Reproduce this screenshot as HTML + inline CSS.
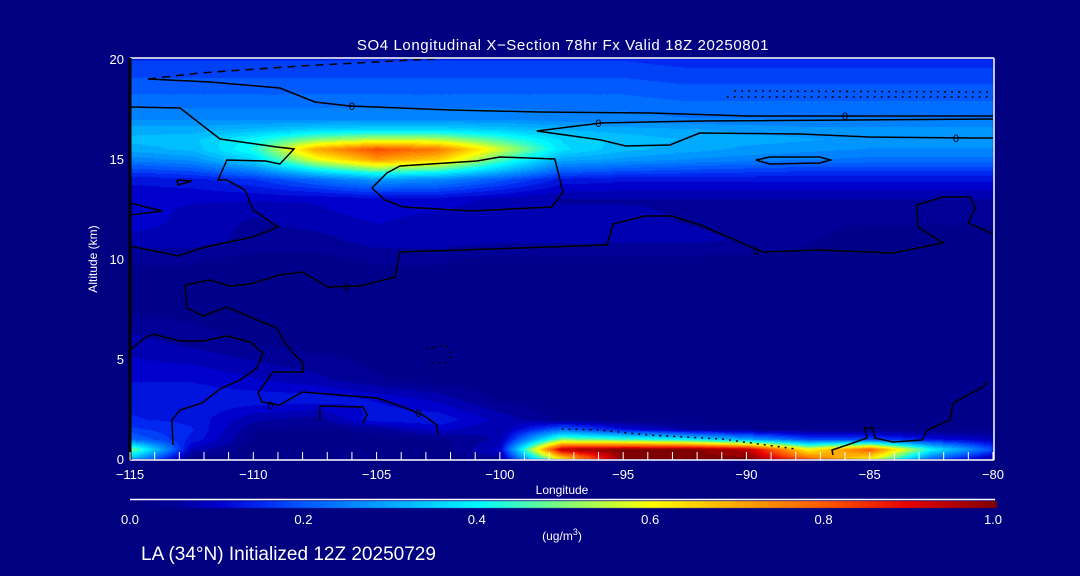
<!DOCTYPE html>
<html><head><meta charset="utf-8">
<style>
html,body{margin:0;padding:0;background:#000080;}
#wrap{position:relative;width:1080px;height:576px;background:#000080;overflow:hidden;font-family:"Liberation Sans",sans-serif;color:#fff;}
canvas{position:absolute;left:0;top:0;}
svg{position:absolute;left:0;top:0;}
</style></head>
<body>
<div id="wrap">
<canvas id="field" width="1080" height="576"></canvas>
<svg id="ov" width="1080" height="576"></svg>
</div>
<script>
// ---- data ----
const lons = [-115,-112.5,-110,-107.5,-105,-102.5,-100,-97.5,-95,-92.5,-90,-87.5,-85,-82.5,-80];
const alts = [0,0.5,1,1.5,2,3,4,6,8,10,11,12,13,14,14.5,15,15.5,16,16.5,17,18,19,20];
const so4 = [
 [0.30,0.02,0.02,0.02,0.02,0.02,0.05,0.60,1.00,1.00,1.00,0.80,0.60,0.20,0.05],
 [0.50,0.08,0.02,0.02,0.02,0.02,0.10,0.95,1.00,1.00,0.95,0.60,0.80,0.40,0.18],
 [0.22,0.13,0.03,0.02,0.02,0.03,0.07,0.50,0.45,0.40,0.30,0.18,0.18,0.12,0.08],
 [0.17,0.14,0.04,0.03,0.05,0.10,0.06,0.22,0.12,0.06,0.04,0.03,0.03,0.03,0.03],
 [0.14,0.13,0.07,0.05,0.13,0.13,0.08,0.03,0.02,0.02,0.02,0.02,0.02,0.02,0.02],
 [0.13,0.13,0.13,0.13,0.11,0.08,0.03,0.02,0.02,0.02,0.02,0.02,0.02,0.02,0.02],
 [0.11,0.11,0.09,0.07,0.04,0.02,0.02,0.02,0.02,0.02,0.02,0.02,0.02,0.02,0.02],
 [0.07,0.05,0.03,0.02,0.02,0.02,0.02,0.02,0.02,0.02,0.02,0.02,0.02,0.02,0.02],
 [0.02,0.02,0.02,0.02,0.02,0.02,0.02,0.02,0.02,0.02,0.02,0.02,0.02,0.02,0.02],
 [0.04,0.04,0.03,0.03,0.04,0.04,0.03,0.03,0.03,0.03,0.03,0.03,0.02,0.02,0.02],
 [0.08,0.08,0.05,0.05,0.08,0.08,0.07,0.07,0.07,0.07,0.06,0.04,0.03,0.03,0.03],
 [0.10,0.08,0.06,0.08,0.09,0.08,0.07,0.07,0.07,0.06,0.05,0.04,0.04,0.04,0.04],
 [0.09,0.09,0.09,0.09,0.10,0.10,0.08,0.06,0.06,0.06,0.06,0.06,0.06,0.06,0.06],
 [0.12,0.13,0.16,0.22,0.28,0.26,0.20,0.13,0.12,0.12,0.12,0.12,0.12,0.12,0.12],
 [0.18,0.20,0.26,0.40,0.50,0.46,0.34,0.22,0.20,0.19,0.18,0.17,0.17,0.17,0.17],
 [0.25,0.27,0.36,0.58,0.72,0.66,0.46,0.30,0.28,0.26,0.25,0.24,0.23,0.23,0.23],
 [0.30,0.32,0.42,0.70,0.82,0.76,0.56,0.37,0.32,0.30,0.28,0.27,0.26,0.26,0.26],
 [0.32,0.33,0.40,0.50,0.55,0.54,0.45,0.36,0.33,0.31,0.30,0.29,0.28,0.28,0.28],
 [0.30,0.30,0.32,0.35,0.36,0.36,0.34,0.31,0.30,0.29,0.28,0.27,0.27,0.27,0.27],
 [0.26,0.26,0.26,0.26,0.26,0.26,0.26,0.25,0.25,0.24,0.24,0.24,0.24,0.24,0.24],
 [0.22,0.22,0.22,0.22,0.22,0.22,0.22,0.22,0.22,0.21,0.21,0.21,0.21,0.21,0.21],
 [0.19,0.19,0.19,0.19,0.19,0.19,0.19,0.19,0.19,0.18,0.18,0.18,0.18,0.18,0.18],
 [0.16,0.16,0.16,0.16,0.16,0.16,0.16,0.16,0.16,0.15,0.15,0.15,0.15,0.15,0.15]
];
const xTicks = [-115,-110,-105,-100,-95,-90,-85,-80];
const yTicks = [0,5,10,15,20];
const cbTicks = [0,0.2,0.4,0.6,0.8,1.0];
const cbLabels = ["0.0","0.2","0.4","0.6","0.8","1.0"];
const contours = [
 {dash:"8,6",pts:[[-114.27,19],[-112.16,19.3],[-108.1,19.65],[-102,20.05]]},
 {pts:[[-114.27,19],[-111.76,18.85],[-108.92,18.55],[-107.5,17.85],[-106.08,17.65],[-102,17.45],[-98.4,17.35],[-93.9,17.3],[-89.9,17.15],[-80,17.15]]},
 {pts:[[-80,17.0],[-91.9,16.9],[-95.9,16.8],[-98.5,16.4],[-95.9,15.95],[-94.9,15.65],[-93.1,15.7],[-91.9,16.3],[-87.8,16.25],[-85,16.1],[-80.9,16.05],[-80,16.05]]},
 {pts:[[-89.62,14.95],[-89.05,15.1],[-87.02,15.1],[-86.6,14.95],[-87.02,14.8],[-89.05,14.75],[-89.62,14.95]]},
 {pts:[[-115,17.6],[-112.97,17.55],[-111.35,16.0],[-109.04,15.6],[-108.35,15.5],[-108.92,14.75],[-109.5,14.9],[-111.07,14.95],[-111.43,13.95],[-111.07,13.95],[-110.34,13.45],[-110.01,12.45],[-109,11.6],[-110.01,11.1],[-111.96,10.6],[-113.05,10.15],[-115,10.65]]},
 {pts:[[-105.19,13.55],[-104.58,14.3],[-104.05,14.65],[-100.93,14.9],[-100,15.1],[-97.77,15.0],[-97.44,13.35],[-97.89,12.6],[-98.78,12.55],[-101.09,12.4],[-103.93,12.6],[-104.66,12.95],[-105.19,13.55]]},
 {pts:[[-102.51,1.2],[-102.55,1.7],[-103.12,2.2],[-103.93,2.6],[-104.98,3.05],[-108.02,3.35],[-108.92,2.7],[-109.65,2.85],[-109.81,3.3],[-109.2,4.35],[-107.98,4.35],[-107.98,4.8],[-108.39,5.3],[-108.79,5.95],[-109.04,6.55],[-110.13,7.1],[-111.07,7.6],[-112.04,7.15],[-112.69,7.55],[-112.77,8.7],[-111.76,8.95],[-110.94,8.65],[-110.13,8.75],[-108.92,9.2],[-108.02,9.35],[-106.97,8.6],[-105.67,8.65],[-104.25,9.1],[-104.05,10.35],[-101.5,10.45],[-99.18,10.55],[-95.65,10.7],[-95.41,11.75],[-94.11,12.15],[-93.02,12.15],[-91.88,11.7],[-89.33,10.35],[-87.02,10.45],[-84.06,10.3],[-82.03,10.8],[-83.04,11.6],[-83.08,12.7],[-82.07,13.1],[-80.93,13.1],[-80.73,12.55],[-81.01,11.8],[-80,11.25]]},
 {pts:[[-115,5.45],[-114.47,6.0],[-114.07,6.25],[-112.97,5.9],[-112.04,5.9],[-111.07,6.15],[-110.13,5.85],[-109.61,5.3],[-109.85,4.55],[-110.54,3.95],[-111.35,3.5],[-112.08,2.8],[-112.97,2.45],[-113.3,1.95],[-113.26,0.7]]},
 {pts:[[-107.3,1.95],[-107.3,2.65],[-105.55,2.6],[-105.39,2.2],[-105.55,1.8]]},
 {pts:[[-80.25,3.85],[-80.41,3.6],[-81.62,2.8],[-81.74,1.95],[-82.67,1.45],[-82.88,0.95],[-84.06,0.85],[-84.79,1.05],[-84.87,1.55],[-85.19,1.55],[-85.11,1.05],[-85.92,0.7],[-86.53,0.45],[-86.49,0.2]]},
 {pts:[[-113.1,13.95],[-112.5,13.9],[-113.05,13.7],[-113.1,13.95]]},
 {pts:[[-115,12.8],[-113.7,12.4],[-115,12.2]]},
 {dash:"2,5",pts:[[-90.5,18.4],[-80,18.35]]},
 {dash:"2,5",pts:[[-90.8,18.1],[-80,18.1]]},
 {dash:"2,5",pts:[[-97.5,1.5],[-96,1.45],[-94,1.2],[-91,1.0],[-88,0.5]]},
 {dash:"2,5",pts:[[-103,5.5],[-102.2,5.7],[-101.9,5.2],[-102.2,4.8],[-103,4.8]]}
];
const contourLabels = [[-106,17.65],[-96,16.8],[-86,17.15],[-81.5,16.05],[-106.2,8.6],[-89.6,10.4],[-109.3,2.7],[-103.3,2.3]];

// ---- axes ----
const X0=130,X1=993,Y0=459,Y1=59;
const xs = v => X0+(v+115)/35*(X1-X0);
const ys = v => Y0-(v/20)*(Y0-Y1);
const cbx = v => 130+v*(997-130);

const stops=[[0,0,0,128],[0.05,0,0,150],[0.1,0,0,205],[0.15,0,40,240],[0.2,0,90,255],[0.3,0,170,255],[0.4,0,250,255],[0.5,130,255,120],[0.6,255,255,0],[0.7,255,170,0],[0.8,255,90,0],[0.9,230,0,0],[1.0,128,0,0]];
function cmap(v){v=Math.max(0,Math.min(1,v));for(let i=1;i<stops.length;i++){if(v<=stops[i][0]){const a=stops[i-1],b=stops[i],t=(v-a[0])/(b[0]-a[0]);return [a[1]+(b[1]-a[1])*t,a[2]+(b[2]-a[2])*t,a[3]+(b[3]-a[3])*t];}}return [128,0,0];}
function idx(arr,v){for(let i=0;i<arr.length-1;i++){if(v<=arr[i+1])return i;}return arr.length-2;}
function sample(lon,alt){const i=idx(lons,lon),j=idx(alts,alt);const tx=(lon-lons[i])/(lons[i+1]-lons[i]),ty=(alt-alts[j])/(alts[j+1]-alts[j]);
 const a=so4[j][i],b=so4[j][i+1],c=so4[j+1][i],d=so4[j+1][i+1];return (a*(1-tx)+b*tx)*(1-ty)+(c*(1-tx)+d*tx)*ty;}

const cv=document.getElementById('field'),ctx=cv.getContext('2d');
const img=ctx.createImageData(X1-X0,Y0-Y1);
for(let py=0;py<Y0-Y1;py++){for(let px=0;px<X1-X0;px++){
 const lon=-115+px/(X1-X0)*35, alt=20-py/(Y0-Y1)*20;
 let v=sample(lon,alt); v=Math.round(v*40)/40;
 const c=cmap(v),k=(py*(X1-X0)+px)*4; img.data[k]=c[0];img.data[k+1]=c[1];img.data[k+2]=c[2];img.data[k+3]=255;}}
ctx.putImageData(img,X0,Y1);
// colorbar
for(let x=130;x<997;x++){const c=cmap((x-130)/(997-130));ctx.fillStyle=`rgb(${c[0]|0},${c[1]|0},${c[2]|0})`;ctx.fillRect(x,501,1,7);}

// ---- overlay ----
const NS="http://www.w3.org/2000/svg",svg=document.getElementById('ov');
function mk(tag,at,parent){const e=document.createElementNS(NS,tag);for(const k in at)e.setAttribute(k,at[k]);(parent||svg).appendChild(e);return e;}
const cg=mk('g',{});


contours.forEach(c=>{const p=mk('polyline',{points:c.pts.map(q=>xs(q[0]).toFixed(1)+','+ys(q[1]).toFixed(1)).join(' '),fill:'none',stroke:'#000','stroke-width':1.5},cg);
 if(c.dash)p.setAttribute('stroke-dasharray',c.dash);
 
 });
contourLabels.forEach(q=>{const t=mk('text',{x:xs(q[0]),y:ys(q[1])+4,'font-size':11,fill:'#000','text-anchor':'middle'},cg);t.textContent='0';
 
 });
// frame
const fr=mk('g',{});


mk('line',{x1:X0,y1:Y1-1,x2:X1+1,y2:Y1-1,stroke:'#fff','stroke-width':1.5},fr);
mk('line',{x1:X1+1,y1:Y1-1,x2:X1+1,y2:Y0+1,stroke:'#fff','stroke-width':1.5},fr);
mk('line',{x1:X0,y1:Y0+1,x2:X1+1,y2:Y0+1,stroke:'#fff','stroke-width':1.5},fr);
mk('line',{x1:X0,y1:Y1-1,x2:X0,y2:Y0+1,stroke:'#000','stroke-width':3},fr);
// x ticks
const xa=mk('g',{});


for(let v=-115;v<=-80;v++){mk('line',{x1:xs(v),y1:Y0+1,x2:xs(v),y2:Y0-7,stroke:'#fff','stroke-width':1},xa);}
xTicks.forEach(v=>{const t=mk('text',{x:xs(v),y:Y0+20,'font-size':13,fill:'#fff','text-anchor':'middle'},xa);t.textContent=(v<0?'\u2212':'')+Math.abs(v);
 
 });
const xt=mk('text',{x:562,y:494,'font-size':12,fill:'#fff','text-anchor':'middle'});xt.textContent='Longitude';


// y ticks
const ya=mk('g',{});


yTicks.forEach(v=>{const t=mk('text',{x:124,y:ys(v)+5,'font-size':13,fill:'#fff','text-anchor':'end'},ya);t.textContent=v;
 
 });
const yt=mk('text',{x:97,y:259,'font-size':12,fill:'#fff','text-anchor':'middle',transform:'rotate(-90 97 259)'});yt.textContent='Altitude (km)';


// title
const tt=mk('text',{x:563,y:50,'font-size':15,fill:'#fff','text-anchor':'middle','letter-spacing':'0.6'});tt.textContent='SO4 Longitudinal X\u2212Section 78hr  Fx Valid 18Z 20250801';


// colorbar
const cb=mk('g',{});


mk('line',{x1:130,y1:499.5,x2:995,y2:499.5,stroke:'#fff','stroke-width':1.5},cb);
cbTicks.forEach((v,i)=>{const t=mk('text',{x:cbx(v)+(i==5?-4:0),y:524,'font-size':13,fill:'#fff','text-anchor':'middle'},cb);t.textContent=cbLabels[i];
 
 });
const ut=mk('text',{x:562,y:540,'font-size':12,fill:'#fff','text-anchor':'middle'},cb);ut.innerHTML='(ug/m<tspan dy="-5" font-size="9">3</tspan><tspan dy="5">)</tspan>';


const ft=mk('text',{x:141,y:560,'font-size':19,fill:'#fff'});ft.textContent='LA (34\u00B0N) Initialized 12Z 20250729';


</script>
</body></html>
